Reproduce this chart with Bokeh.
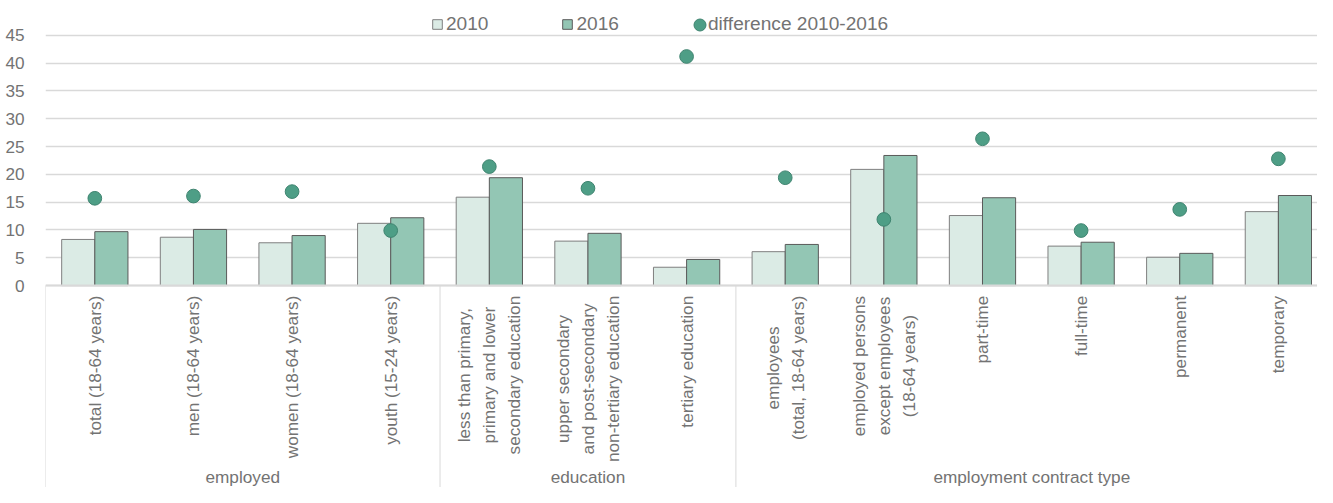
import math
from bokeh.plotting import figure
from bokeh.models import (ColumnDataSource, Range1d, FixedTicker, Label, Legend, LegendItem, Span)
from bokeh.transform import dodge
from bokeh.embed import file_html
from bokeh.resources import INLINE

# ---- data ----
categories = [
    "total (18-64 years)",
    "men (18-64 years)",
    "women (18-64 years)",
    "youth (15-24 years)",
    "less than primary,\nprimary and lower\nsecondary education",
    "upper secondary\nand post-secondary\nnon-tertiary education",
    "tertiary education",
    "employees\n(total, 18-64 years)",
    "employed persons\nexcept employees\n(18-64 years)",
    "part-time",
    "full-time",
    "permanent",
    "temporary",
]
groups = ["employed", "education", "employment contract type"]
group_sizes = [4, 3, 6]
values_2010 = [8.3, 8.7, 7.7, 11.2, 15.9, 8.0, 3.3, 6.1, 20.9, 12.6, 7.1, 5.1, 13.3]
values_2016 = [9.7, 10.1, 9.0, 12.2, 19.4, 9.4, 4.7, 7.4, 23.4, 15.8, 7.8, 5.8, 16.2]
difference = [15.7, 16.1, 16.9, 9.9, 21.4, 17.5, 41.2, 19.4, 11.9, 26.4, 9.9, 13.7, 22.8]
y_ticks = [0, 5, 10, 15, 20, 25, 30, 35, 40, 45]
series_names = ["2010", "2016", "difference 2010-2016"]

FONT = "Liberation Sans"
TXT = "#737373"
GRID = "#d9d9d9"
C2010 = "#dbebe5"
C2016 = "#93c6b4"
CDOT = "#4e9e86"
AXFS = "17.2px"
LEGFS = "19.1px"

W, H = 1317, 487
LEFT = 45
PX_PER_UNIT = 5.561          # vertical pixels per value unit
ZERO_FROM_BOTTOM = 201.9     # pixels from the bottom of the plot to value 0
CAT_W = 98.63                # pixels per category

y_start = -ZERO_FROM_BOTTOM / PX_PER_UNIT
y_end = y_start + H / PX_PER_UNIT
x_start = -0.5
x_end = x_start + (W - LEFT) / CAT_W

src = ColumnDataSource(dict(x=list(range(len(categories))),
                            v2010=values_2010, v2016=values_2016, diff=difference))

p = figure(width=W, height=H,
           x_range=Range1d(x_start, x_end), y_range=Range1d(y_start, y_end),
           output_backend="svg", toolbar_location=None, x_axis_location=None,
           min_border_left=LEFT, min_border_right=0, min_border_top=0, min_border_bottom=0)
p.outline_line_color = None
p.background_fill_color = "white"
p.border_fill_color = "white"

# y axis
ya = p.yaxis[0]
ya.ticker = FixedTicker(ticks=y_ticks)
ya.axis_line_color = None
ya.major_tick_line_color = None
ya.minor_tick_line_color = None
ya.major_label_text_font = FONT
ya.major_label_text_font_size = AXFS
ya.major_label_text_color = TXT
ya.major_label_standoff = 15

p.ygrid.ticker = FixedTicker(ticks=y_ticks)
p.ygrid.grid_line_color = GRID
p.ygrid.grid_line_width = 1.3
p.xgrid.visible = False

# category axis line and group separators
bounds = [x_start]
for s in group_sizes:
    bounds.append(bounds[-1] + s)
p.segment(x0=bounds, x1=bounds, y0=[0] * len(bounds), y1=[y_start] * len(bounds),
          line_color=GRID, line_width=1)
p.add_layout(Span(location=0, dimension="width", line_color=GRID, line_width=2))

bw = 0.336
r1 = p.vbar(x=dodge("x", -bw / 2), top="v2010", width=bw, source=src,
            fill_color=C2010, line_color="#7f7f7f", line_width=1)
r2 = p.vbar(x=dodge("x", bw / 2), top="v2016", width=bw, source=src,
            fill_color=C2016, line_color="#5a5a5a", line_width=1)
r3 = p.ellipse(x="x", y="diff", source=src, width=13.7, height=13.7,
               width_units="screen", height_units="screen",
               fill_color=CDOT, line_color="#3f8470", line_width=1)

# category labels (rotated, top-anchored, lines centred)
for i, c in enumerate(categories):
    p.add_layout(Label(x=i, y=ZERO_FROM_BOTTOM - 10.2, x_units="data", y_units="screen", text=c,
                       angle=math.pi / 2, anchor="center_right", text_align="center",
                       text_baseline="middle", text_font=FONT, text_font_size=AXFS,
                       text_color=TXT, text_line_height=1.245))

# group labels
start = x_start
for g, s in zip(groups, group_sizes):
    p.add_layout(Label(x=start + s / 2, y=11, x_units="data", y_units="screen", text=g,
                       text_align="center", text_baseline="middle", text_font=FONT,
                       text_font_size=AXFS, text_color=TXT))
    start += s

# legends
leg1 = Legend(items=[LegendItem(label=series_names[0], renderers=[r1]),
                     LegendItem(label=series_names[1], renderers=[r2])],
              orientation="horizontal", location=(386, 452),
              glyph_width=12, glyph_height=12, label_standoff=3, spacing=73,
              padding=0, margin=0, border_line_color=None, background_fill_alpha=0,
              label_text_font=FONT, label_text_font_size=LEGFS, label_text_color=TXT)
leg2 = Legend(items=[LegendItem(label=series_names[2], renderers=[r3])],
              orientation="horizontal", location=(647, 452),
              glyph_width=15, glyph_height=15, label_standoff=1, spacing=0,
              padding=0, margin=0, border_line_color=None, background_fill_alpha=0,
              label_text_font=FONT, label_text_font_size=LEGFS, label_text_color=TXT)
p.add_layout(leg1)
p.add_layout(leg2)

open("out.html", "w").write(file_html(p, INLINE))
